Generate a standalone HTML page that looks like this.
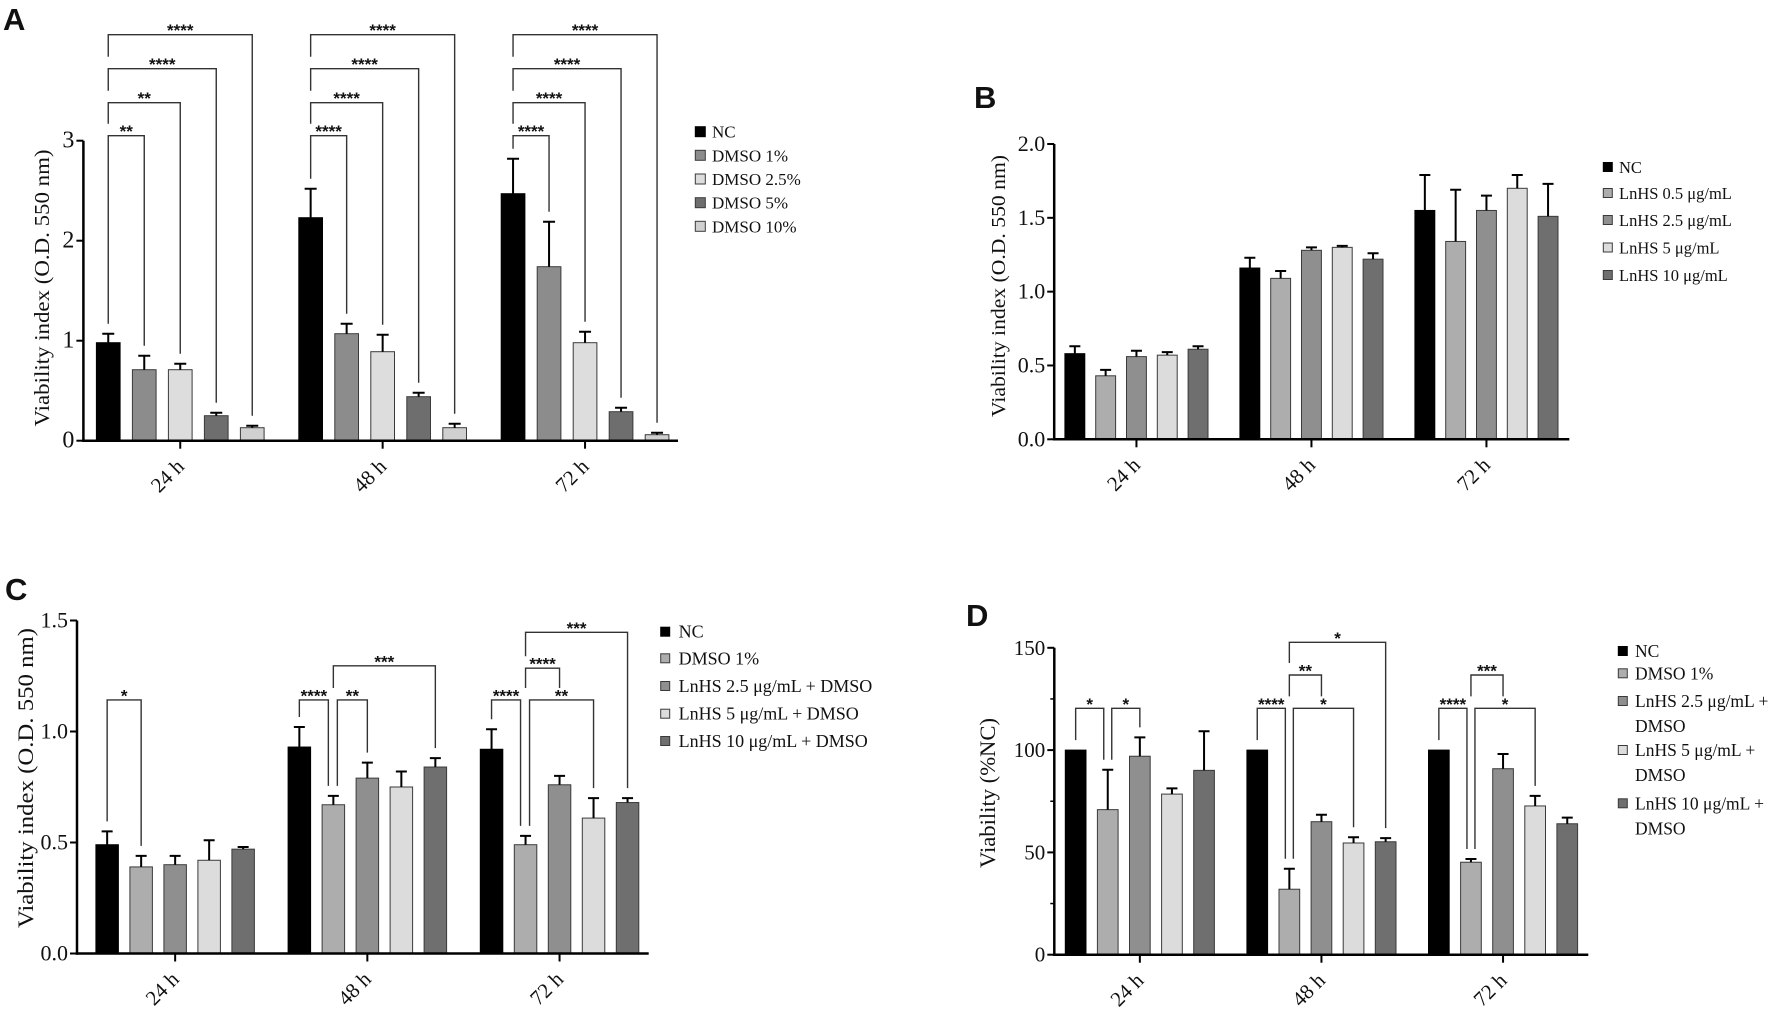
<!DOCTYPE html>
<html><head><meta charset="utf-8"><style>
html,body{margin:0;padding:0;background:#fff;}
svg{display:block;}
text{font-family:"Liberation Serif",serif;fill:#111;}
.stars{font-family:"Liberation Sans",sans-serif;font-weight:bold;font-size:17px;}
.plabel{font-family:"Liberation Sans",sans-serif;font-weight:bold;font-size:31px;}
</style></head><body>
<svg id="fig" width="1772" height="1017" viewBox="0 0 1772 1017" xmlns="http://www.w3.org/2000/svg"></svg>
<script>
const GROUPS = ['24 h','48 h','72 h'];

const A_SERIES = ['NC','DMSO 1%','DMSO 2.5%','DMSO 5%','DMSO 10%'];
const A_MEAN = [[0.98,0.71,0.71,0.25,0.13],[2.23,1.07,0.89,0.44,0.13],[2.47,1.74,0.98,0.29,0.06]];
const A_SD = [[0.09,0.14,0.06,0.03,0.02],[0.29,0.10,0.17,0.04,0.04],[0.35,0.45,0.11,0.04,0.02]];
const A_TICKS = [0,1,2,3];
const A_TICK_LABELS = ['0','1','2','3'];
const A_BRACKETS = [
 [0,0,1,3.05,'**'],[0,0,2,3.38,'**'],[0,0,3,3.72,'****'],[0,0,4,4.06,'****'],
 [1,0,1,3.05,'****'],[1,0,2,3.38,'****'],[1,0,3,3.72,'****'],[1,0,4,4.06,'****'],
 [2,0,1,3.05,'****'],[2,0,2,3.38,'****'],[2,0,3,3.72,'****'],[2,0,4,4.06,'****']];
const A_NUDGE = [[0,0],[0,0],[0,0],[0,0],[0,0],[0,0],[0,0],[0,0],[0,0],[0,0],[0,0],[0,0]];

const B_SERIES = ['NC','LnHS 0.5 μg/mL','LnHS 2.5 μg/mL','LnHS 5 μg/mL','LnHS 10 μg/mL'];
const B_MEAN = [[0.58,0.43,0.56,0.57,0.61],[1.16,1.09,1.28,1.30,1.22],[1.55,1.34,1.55,1.70,1.51]];
const B_SD = [[0.05,0.04,0.04,0.02,0.02],[0.07,0.05,0.02,0.01,0.04],[0.24,0.35,0.10,0.09,0.22]];
const B_TICKS = [0,0.5,1,1.5,2];
const B_TICK_LABELS = ['0.0','0.5','1.0','1.5','2.0'];

const C_SERIES = ['NC','DMSO 1%','LnHS 2.5 μg/mL + DMSO','LnHS 5 μg/mL + DMSO','LnHS 10 μg/mL + DMSO'];
const C_MEAN = [[0.49,0.39,0.40,0.42,0.47],[0.93,0.67,0.79,0.75,0.84],[0.92,0.49,0.76,0.61,0.68]];
const C_SD = [[0.06,0.05,0.04,0.09,0.01],[0.09,0.04,0.07,0.07,0.04],[0.09,0.04,0.04,0.09,0.02]];
const C_TICKS = [0,0.5,1,1.5];
const C_TICK_LABELS = ['0.0','0.5','1.0','1.5'];
const C_BRACKETS = [[0,0,1,1.142,'*'],[1,0,1,1.142,'****'],[1,1,2,1.142,'**'],[1,1,4,1.296,'***'],
 [2,0,1,1.142,'****'],[2,1,3,1.142,'**'],[2,1,2,1.285,'****'],[2,1,4,1.447,'***']];
const C_NUDGE = [[0,0],[0,-5],[4,0],[0,0],[0,-5],[4,0],[0,0],[0,0]];

const D_SERIES = ['NC','DMSO 1%','LnHS 2.5 μg/mL +|DMSO','LnHS 5 μg/mL +|DMSO','LnHS 10 μg/mL +|DMSO'];
const D_MEAN = [[100,70.9,97,78.5,90.1],[100,32,65,54.6,55.2],[100,45.2,90.9,72.7,64]];
const D_SD = [[0,19.5,9.2,2.8,19.1],[0,10,3.4,2.8,1.8],[0,1.6,7.2,4.9,3]];
const D_TICKS = [0,50,100,150];
const D_TICK_LABELS = ['0','50','100','150'];
const D_MINOR = [25,75,125];
const D_BRACKETS = [[0,0,1,120.4,'*'],[0,1,2,120.4,'*'],[1,0,1,120.4,'****'],[1,1,3,120.4,'*'],
 [1,1,2,136.7,'**'],[1,1,4,152.7,'*'],[2,0,1,120.4,'****'],[2,1,3,120.4,'*'],[2,1,2,136.7,'***']];
const D_NUDGE = [[0,-4],[4,0],[0,-4],[4,0],[0,0],[0,0],[0,-4],[4,0],[0,0]];

const NS = 'http://www.w3.org/2000/svg';
const svg = document.getElementById('fig');
function mk(tag, attrs, parent){
  const el = document.createElementNS(NS, tag);
  for (const k in attrs) el.setAttribute(k, attrs[k]);
  (parent||svg).appendChild(el);
  return el;
}

function drawPanel(p){
  const g = mk('g', {});
  
  
  const ys = v => p.y0 - v * p.ppu;
  const barX = (gi, i) => p.barStart + gi * p.gp + i * p.pitch;
  const barC = (gi, i) => barX(gi, i) + p.bw / 2;
  const topV = p.ticks[p.ticks.length-1];

  // panel letter
  const pl = mk('text', {x:p.letter[0], y:p.letter[1], class:'plabel'}, g);
  pl.textContent = p.id.toUpperCase();
  
  

  // bars
  p.mean.forEach((row, gi) => {
    row.forEach((v, i) => {
      const r = mk('rect', {x:barX(gi,i), y:ys(v), width:p.bw, height:ys(0)-ys(v), fill:p.colors[i], stroke: i===0?'#000':'#3a3a3a', 'stroke-width':1}, g);
      
      
      const sd = p.sd[gi][i];
      if (sd > 0) {
        const cx = barC(gi,i);
        const e = mk('path', {d:`M${cx},${ys(v)} V${ys(v+sd)} M${cx-p.cap/2},${ys(v+sd)} H${cx+p.cap/2}`, stroke:'#000', 'stroke-width':2, fill:'none'}, g);
        
        
      }
    });
  });

  // axes
  const ya = mk('line', {x1:p.x0, y1:ys(0)+1.2, x2:p.x0, y2:ys(topV), stroke:'#000', 'stroke-width':2.5}, g);
  
  
  const xa = mk('line', {x1:p.x0-1.2, y1:ys(0), x2:p.xEnd, y2:ys(0), stroke:'#000', 'stroke-width':2.5}, g);
  
  
  p.ticks.forEach((t, k) => {
    const tl = mk('line', {x1:p.x0-7, y1:ys(t), x2:p.x0, y2:ys(t), stroke:'#000', 'stroke-width':2}, g);
    
    
    const tx = mk('text', {x:p.x0-9, y:ys(t)+7, 'text-anchor':'end', 'font-size':p.tickFont}, g);
    tx.textContent = p.tickLabels[k];
    
    
  });
  (p.minor||[]).forEach(t => {
    const tl = mk('line', {x1:p.x0-4, y1:ys(t), x2:p.x0, y2:ys(t), stroke:'#000', 'stroke-width':1.5}, g);
    
    
  });
  GROUPS.forEach((lab, gi) => {
    const cx = barC(gi, 2);
    const tk = mk('line', {x1:cx, y1:ys(0), x2:cx, y2:ys(0)+8, stroke:'#000', 'stroke-width':2}, g);
    
    
    const tx = mk('text', {x:cx+5, y:ys(0)+27, 'text-anchor':'end', 'font-size':21, transform:`rotate(-45 ${cx+5} ${ys(0)+27})`}, g);
    tx.textContent = lab;
    
    
  });

  // y title
  const yt = mk('text', {x:p.yTitle[0], y:p.yTitle[1], 'text-anchor':'middle', 'font-size':p.yTitle[3], textLength:p.yTitle[2], lengthAdjust:'spacingAndGlyphs', transform:`rotate(-90 ${p.yTitle[0]} ${p.yTitle[1]})`}, g);
  yt.textContent = p.yTitleText;
  
  

  // brackets
  const br = p.brackets || [];
  const bx = br.map((b, k) => [barC(b[0], b[1]) + p.nudge[k][0], barC(b[0], b[2]) + p.nudge[k][1]]);
  function legEnd(k, x, barIdx){
    const b = br[k];
    let best = null;
    br.forEach((o, j) => {
      if (j === k || o[0] !== b[0] || o[3] >= b[3]) return;
      if (x >= bx[j][0]-6 && x <= bx[j][1]+6) { if (best === null || o[3] > best) best = o[3]; }
    });
    if (best !== null) return ys(best) - 12;
    const m = p.mean[b[0]][barIdx], s = p.sd[b[0]][barIdx];
    return ys(m + s) - 10;
  }
  br.forEach((b, k) => {
    const [xl, xr] = bx[k];
    const yl = ys(b[3]);
    const pth = mk('path', {d:`M${xl},${legEnd(k,xl,b[1])} V${yl} H${xr} V${legEnd(k,xr,b[2])}`, stroke:'#333', 'stroke-width':1.4, fill:'none'}, g);
    
    
    const st = mk('text', {x:(xl+xr)/2, y:yl+1.5, 'text-anchor':'middle', class:'stars'}, g);
    st.textContent = b[4];
    
    
  });

  // legend
  const lg = mk('g', {}, g);
  
  
  p.series.forEach((s, i) => {
    const cy = p.legRows[i];
    const sq = mk('rect', {x:p.legX, y:cy-p.legSq/2, width:p.legSq, height:p.legSq, fill:p.colors[i], stroke:i===0?'#000':'#3a3a3a', 'stroke-width':1}, lg);
    
    
    s.split('|').forEach((line, li) => {
      const t = mk('text', {x:p.legTextX, y:cy + 6 + li*p.legLine, 'font-size':p.legFont}, lg);
      t.textContent = line;
      
      
    });
  });
}

const COL5 = ['#000000','#adadad','#8f8f8f','#dcdcdc','#6f6f6f'];

drawPanel({id:'a', x0:83.4, xEnd:678, y0:440.7, ppu:100, ticks:A_TICKS, tickLabels:A_TICK_LABELS, tickFont:24,
  barStart:96.4, bw:23.7, pitch:36, gp:202.4, cap:12, mean:A_MEAN, sd:A_SD,
  colors:['#000000','#8c8c8c','#dddddd','#6e6e6e','#d0d0d0'], series:A_SERIES,
  brackets:A_BRACKETS, nudge:A_NUDGE, letter:[3,30],
  yTitle:[49,288,277,21], yTitleText:'Viability index (O.D. 550 nm)',
  legX:695.3, legSq:10, legTextX:712, legFont:17, legLine:0, legRows:[131.7,155.3,179,202.7,226.3]});

drawPanel({id:'b', x0:1054.2, xEnd:1569.3, y0:439.3, ppu:147.65, ticks:B_TICKS, tickLabels:B_TICK_LABELS, tickFont:22,
  barStart:1064.9, bw:19.9, pitch:30.8, gp:175, cap:11, mean:B_MEAN, sd:B_SD,
  colors:COL5, series:B_SERIES, brackets:[], nudge:[], letter:[974,108],
  yTitle:[1005,286,262,20], yTitleText:'Viability index (O.D. 550 nm)',
  legX:1603.3, legSq:9, legTextX:1619, legFont:16.5, legLine:0, legRows:[167,193,220,247.5,275]});

drawPanel({id:'c', x0:77, xEnd:648.7, y0:953.5, ppu:222, ticks:C_TICKS, tickLabels:C_TICK_LABELS, tickFont:22,
  barStart:95.9, bw:22.5, pitch:34, gp:192.2, cap:11, mean:C_MEAN, sd:C_SD,
  colors:COL5, series:C_SERIES, brackets:C_BRACKETS, nudge:C_NUDGE, letter:[5,600],
  yTitle:[33,778,300,22], yTitleText:'Viability index (O.D. 550 nm)',
  legX:660.7, legSq:9, legTextX:678.6, legFont:18, legLine:0, legRows:[631.7,658.3,686,713.7,741]});

drawPanel({id:'d', x0:1054.3, xEnd:1588.3, y0:954.7, ppu:2.046, ticks:D_TICKS, tickLabels:D_TICK_LABELS, tickFont:21, minor:D_MINOR,
  barStart:1065.3, bw:20.7, pitch:32.1, gp:181.6, cap:11, mean:D_MEAN, sd:D_SD,
  colors:COL5, series:D_SERIES, brackets:D_BRACKETS, nudge:D_NUDGE, letter:[966,626],
  yTitle:[995,793,150,22], yTitleText:'Viability (%NC)',
  legX:1618.3, legSq:9, legTextX:1635, legFont:17.5, legLine:25, legRows:[651,673.3,701,750,803.3]});
</script>
</body></html>
